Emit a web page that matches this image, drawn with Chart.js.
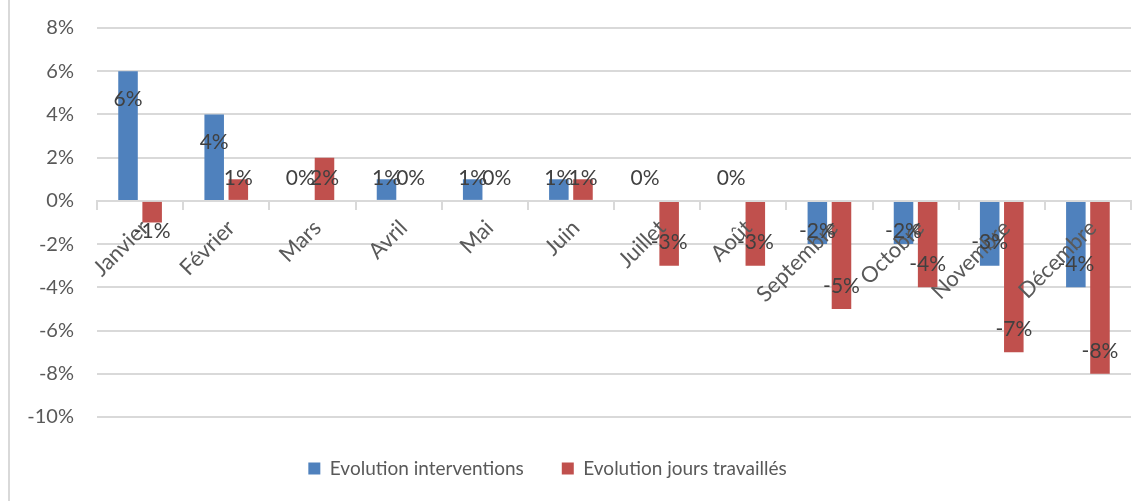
<!DOCTYPE html>
<html>
<head>
<meta charset="utf-8">
<script src="https://cdn.jsdelivr.net/npm/chart.js@4/dist/chart.umd.min.js"></script>
<style>
  html, body { margin: 0; padding: 0; background: #fff; }
  #wrap { position: relative; height: 501px; box-sizing: border-box; border-left: 2px solid #d9d9d9; margin-left: 8px; width: 1138px; }
  canvas { display: block; }
</style>
</head>
<body>
<div id="wrap"><canvas id="c" width="1136" height="501"></canvas></div>
<script>
// Monthly change, in percent
const months = ['Janvier', 'Février', 'Mars', 'Avril', 'Mai', 'Juin', 'Juillet', 'Août', 'Septembre', 'Octobre', 'Novembre', 'Décembre'];
const interventions = [6, 4, 0, 1, 1, 1, 0, 0, -2, -2, -3, -4];
const joursTravailles = [-1, 1, 2, 0, 0, 1, -3, -3, -5, -4, -7, -8];
const yTicks = [8, 6, 4, 2, 0, -2, -4, -6, -8, -10];

const FONT = 'Lato, "Open Sans", sans-serif';

// Percent labels at the inner end of each bar, kept clear of the zero line
const valueLabels = {
  id: 'valueLabels',
  afterDraw(chart) {
    const { ctx, scales: { y } } = chart;
    const zero = y.getPixelForValue(0);
    ctx.save();
    ctx.font = '21px ' + FONT;
    ctx.fillStyle = '#404040';
    ctx.textAlign = 'center';
    ctx.textBaseline = 'middle';
    chart.data.datasets.forEach((ds, di) => {
      chart.getDatasetMeta(di).data.forEach((bar, i) => {
        const v = ds.data[i];
        const end = y.getPixelForValue(v);
        const cy = v >= 0 ? Math.min(end + 28, zero - 23) : Math.max(end - 23, zero + 30);
        ctx.fillText(v + '%', bar.x, cy);
      });
    });
    ctx.restore();
  }
};

// Places the legend row below the plot
const legendPlace = {
  id: 'legendPlace',
  afterLayout(chart) {
    const lg = chart.legend;
    const dx = -23;
    lg.left += dx; lg.right += dx;
    const h = lg.height;
    lg.top = 421; lg.bottom = 421 + h;
  }
};

new Chart(document.getElementById('c'), {
  type: 'bar',
  data: {
    labels: months,
    datasets: [
      { label: 'Evolution interventions', data: interventions, backgroundColor: '#4f81bd' },
      { label: 'Evolution jours travaillés', data: joursTravailles, backgroundColor: '#c0504d' }
    ]
  },
  options: {
    responsive: false,
    animation: false,
    devicePixelRatio: 1,
    categoryPercentage: 0.56,
    barPercentage: 0.81,
    layout: { padding: { top: 28, right: 15, bottom: 17, left: 0 } },
    plugins: {
      legend: {
        position: 'bottom',
        labels: {
          boxWidth: 12, boxHeight: 12, padding: 38,
          color: '#595959',
          font: { family: FONT, size: 19 }
        }
      },
      tooltip: { enabled: false }
    },
    scales: {
      x: {
        position: { y: 0 },
        offset: true,
        grid: { offset: true, drawOnChartArea: false, drawTicks: true, tickLength: 8, color: '#d9d9d9', lineWidth: 2 },
        border: { display: true, color: '#d9d9d9', width: 2 },
        ticks: {
          z: 1,
          minRotation: 45, maxRotation: 45, autoSkip: false, padding: 6, labelOffset: 5,
          color: '#595959', font: { family: FONT, size: 22 }
        }
      },
      y: {
        min: -10, max: 8,
        afterBuildTicks(scale) { scale.ticks = yTicks.map(v => ({ value: v })); },
        afterFit(scale) { scale.width = 87; scale.paddingTop = 0; scale.paddingBottom = 0; },
        grid: { color: '#d9d9d9', lineWidth: 2, drawTicks: false },
        border: { display: false },
        ticks: {
          padding: 23,
          color: '#595959', font: { family: FONT, size: 20 },
          callback: v => v + '%'
        }
      }
    }
  },
  plugins: [valueLabels, legendPlace]
});
</script>
</body>
</html>
